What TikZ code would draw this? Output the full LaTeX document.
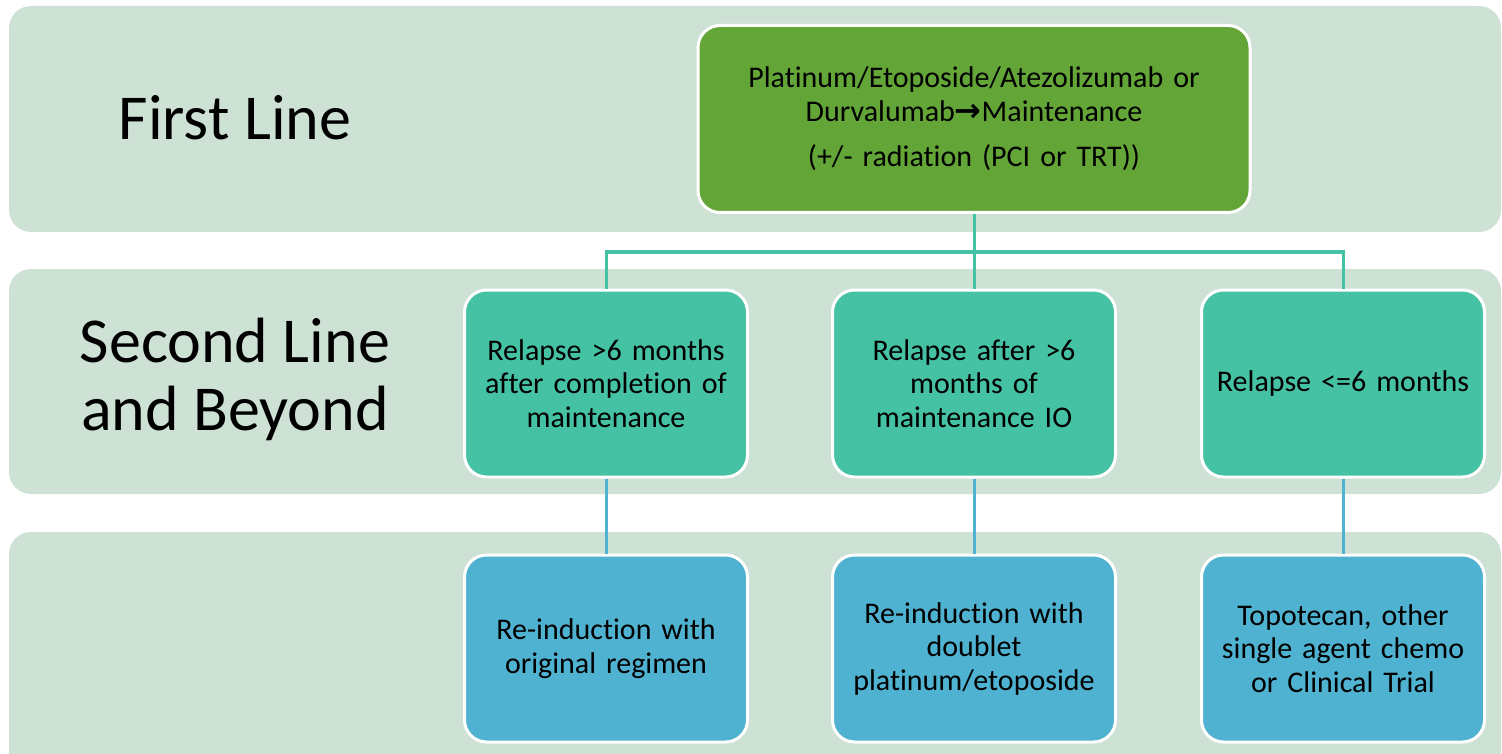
\documentclass[tikz,border=0pt]{standalone}
\usepackage{fontspec}
\setmainfont[Ligatures={NoCommon,NoContextual,NoRare}]{Carlito}
\newfontfamily\arrowfont{DejaVu Sans}
\usepackage{tikz}
\usetikzlibrary{positioning}
\definecolor{bandgreen}{RGB}{206,225,213}
\definecolor{firstgreen}{RGB}{99,165,55}
\definecolor{relteal}{RGB}{69,193,164}
\definecolor{trtblue}{RGB}{79,178,209}
\tikzset{
    band/.style={fill=bandgreen, draw=none, rounded corners=22pt},
    rowlabel/.style={font=\fontsize{64}{68}\selectfont, align=center, text=black},
    stepbox/.style={draw=white, line width=3pt, rounded corners=22pt,
        minimum width=283pt, minimum height=187pt, text width=265pt,
        align=center, font=\fontsize{30}{33.5}\selectfont},
    firstbox/.style={stepbox, fill=firstgreen, minimum width=552pt, text width=530pt},
    relbox/.style={stepbox, fill=relteal},
    trtbox/.style={stepbox, fill=trtblue},
    tealline/.style={draw=relteal, line width=3pt},
    blueline/.style={draw=trtblue, line width=3pt}
}
\begin{document}
\begin{tikzpicture}[x=1pt, y=-1pt]
\useasboundingbox (0,0) rectangle (1502,754);
% background bands
\fill[band] (9,6) rectangle (1501,232);
\fill[band] (9,269) rectangle (1501,494);
\fill[band] (9,532) rectangle (1501,790);
% row labels
\node[rowlabel] (lblfirst) at (235,118) {First Line};
\node[rowlabel] (lblsecond) at (235,379) {Second Line\\and Beyond};
% boxes
\node[firstbox] (first) at (974,119) {Platinum/Etoposide/Atezolizumab or\\
    Durvalumab{\arrowfont\fontsize{32}{30}\selectfont\textbf{→}}Maintenance\\[12pt]
    (+/- radiation (PCI or TRT))};
\node[relbox] (relA) at (606,383.5) {Relapse >6 months\\after completion of\\maintenance};
\node[relbox] (relB) at (974,383.5) {Relapse after >6\\months of\\maintenance IO};
\node[relbox] (relC) at (1343,383.5) {Relapse <=6 months};
\node[trtbox] (trtA) at (606,648.5) {Re-induction with\\original regimen};
\node[trtbox] (trtB) at (974,648.5) {Re-induction with\\doublet\\platinum/etoposide};
\node[trtbox] (trtC) at (1343,648.5) {Topotecan, other\\single agent chemo\\or Clinical Trial};
% connectors
\coordinate (bus) at (974,252);
\draw[tealline] (first.south) -- (relB.north);
\draw[tealline] (relA.north) |- (bus) -| (relC.north);
\draw[blueline] (relA.south) -- (trtA.north);
\draw[blueline] (relB.south) -- (trtB.north);
\draw[blueline] (relC.south) -- (trtC.north);
\end{tikzpicture}
\end{document}
